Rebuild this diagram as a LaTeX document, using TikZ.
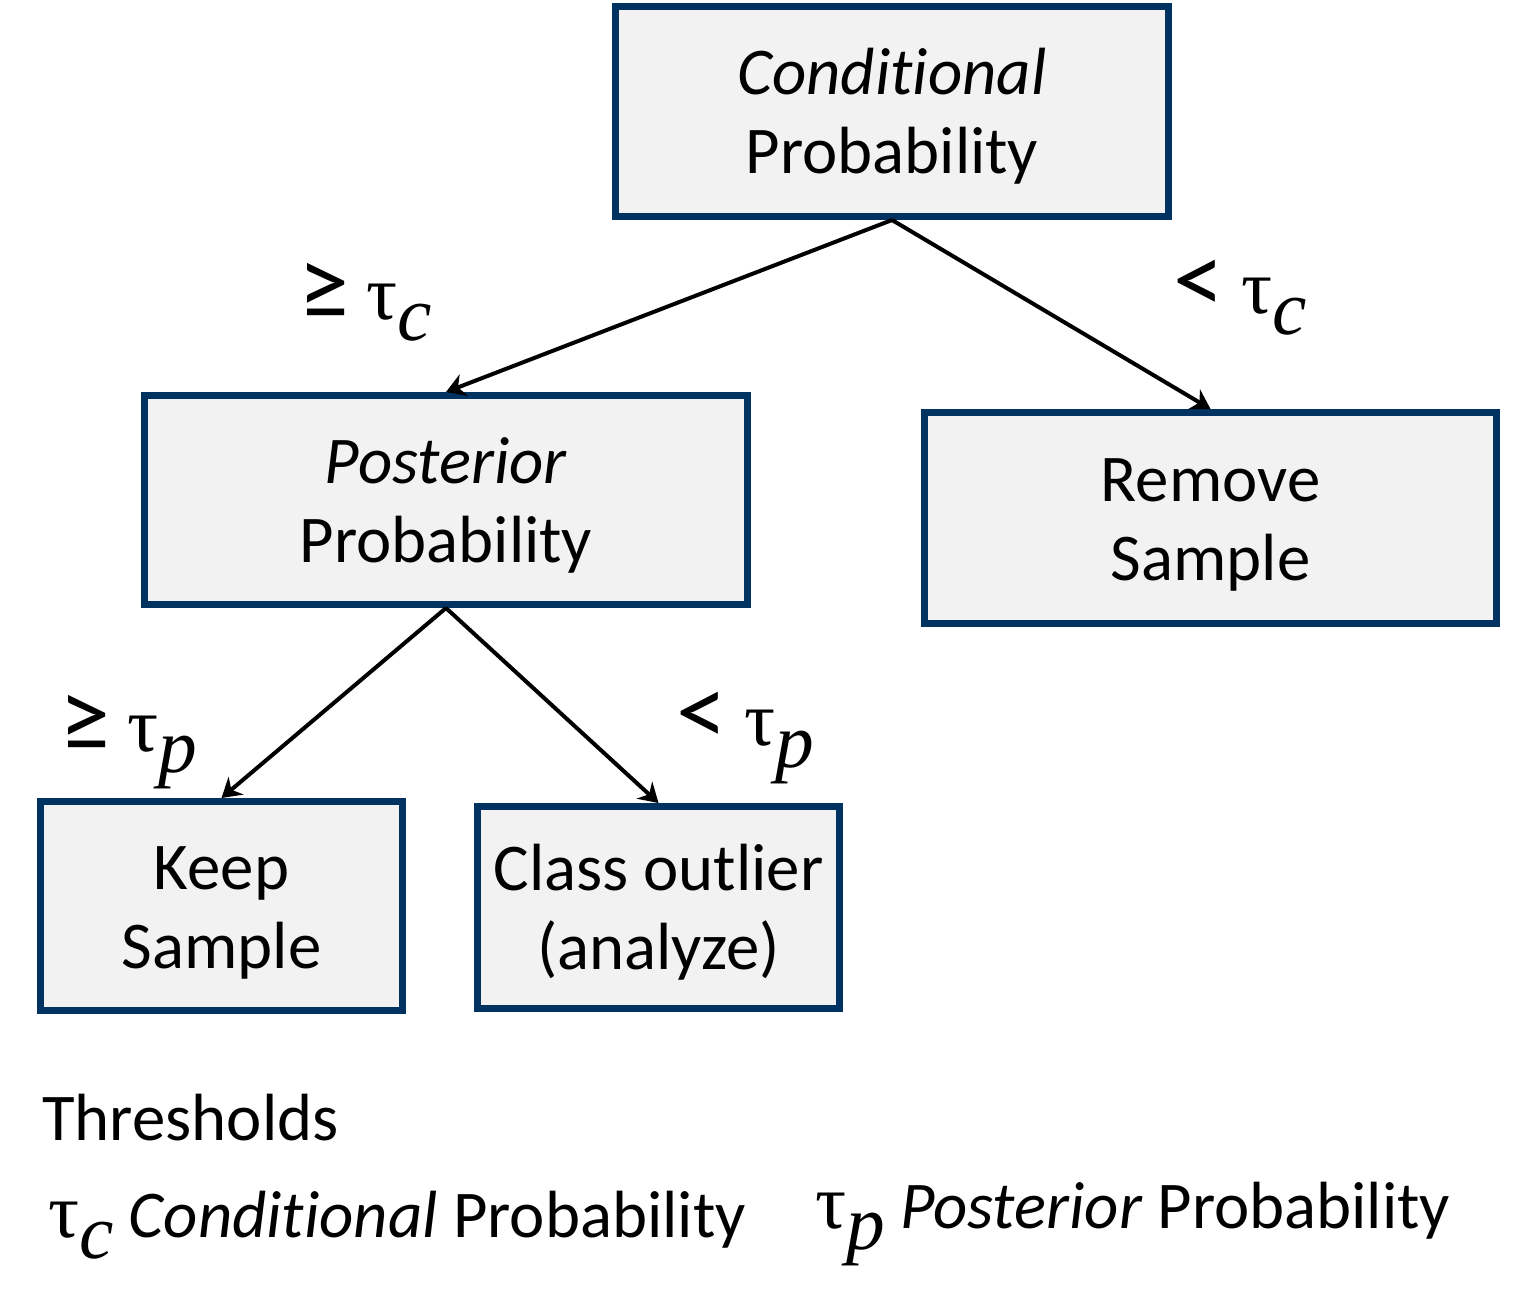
\documentclass[tikz,border=0pt]{standalone}
\usepackage{fontspec}
\setmainfont{Carlito}[Ligatures=NoCommon]
\newfontfamily\greekfont{Liberation Serif}
\usetikzlibrary{arrows.meta}
\definecolor{boxline}{RGB}{0,50,98}
\definecolor{boxfill}{RGB}{242,242,242}
\newcommand{\thr}[1]{{\greekfont τ\raisebox{-0.6ex}{\itshape #1}}}
\newcommand{\rel}[1]{{\fontsize{29}{30}\selectfont #1}}
\newcommand{\firstline}{\rule{0pt}{16pt}}
\tikzset{
    decision/.style={draw=boxline, fill=boxfill, line width=0.07cm, align=center,
        font=\fontsize{19}{22.5}\selectfont, inner sep=0pt},
    branch/.style={-{Stealth[length=0.19cm, width=0.23cm]}, line width=0.04cm},
    cut/.style={font=\fontsize{22}{26}\selectfont}
}
\begin{document}
\begin{tikzpicture}
    \useasboundingbox (0,0) rectangle (15.39,-12.96);

    \node[decision, minimum width=5.53cm, minimum height=2.10cm] (cond) at (8.92,-1.115) {\firstline\textit{Conditional}\\Probability};
    \node[decision, minimum width=6.03cm, minimum height=2.09cm] (post) at (4.46,-5.00) {\firstline\textit{Posterior}\\Probability};
    \node[decision, minimum width=5.72cm, minimum height=2.11cm] (remove) at (12.105,-5.18) {\firstline Remove\\Sample};
    \node[decision, minimum width=3.62cm, minimum height=2.09cm] (keep) at (2.215,-9.06) {\firstline Keep\\Sample};
    \node[decision, minimum width=3.62cm, minimum height=2.02cm] (outlier) at (6.585,-9.075) {\firstline Class outlier\\(analyze)};

    \draw[branch] (cond.south) -- (post.north);
    \draw[branch] (cond.south) -- (remove.north);
    \draw[branch] (post.south) -- (keep.north);
    \draw[branch] (post.south) -- (outlier.north);

    \node[cut] (gec) at (3.65,-3.02) {\rel{≥} \thr{c}};
    \node[cut] (ltc) at (12.40,-2.98) {\rel{<} \thr{c}};
    \node[cut] (gep) at (1.28,-7.42) {\rel{≥} \thr{p}};
    \node[cut] (ltp) at (7.45,-7.38) {\rel{<} \thr{p}};

    \node[anchor=base west, font=\fontsize{19}{23}\selectfont] (legend) at (0.30,-11.40) {Thresholds};
    \node[anchor=base west, font=\fontsize{19}{23}\selectfont] (legc) at (0.36,-12.37) {{\fontsize{22}{26}\selectfont\thr{c}} \textit{Conditional} Probability};
    \node[anchor=base west, font=\fontsize{19}{23}\selectfont] (legp) at (8.03,-12.28) {{\fontsize{22}{26}\selectfont\thr{p}} \textit{Posterior} Probability};
\end{tikzpicture}
\end{document}
